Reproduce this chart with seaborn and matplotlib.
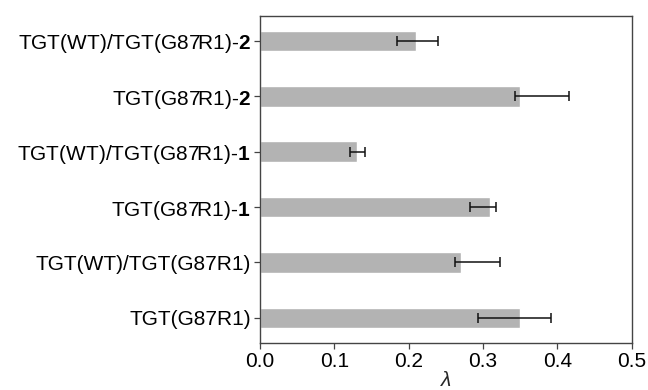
import matplotlib

matplotlib.use("Agg")
import matplotlib.pyplot as plt  # noqa: E402
import numpy as np  # noqa: E402
import pandas as pd  # noqa: E402
import seaborn as sns  # noqa: E402

labels = [
    r"TGT(WT)/TGT(G87R1)-$\mathbf{2}$",
    r"TGT(G87R1)-$\mathbf{2}$",
    r"TGT(WT)/TGT(G87R1)-$\mathbf{1}$",
    r"TGT(G87R1)-$\mathbf{1}$",
    "TGT(WT)/TGT(G87R1)",
    "TGT(G87R1)",
]
lam = [0.21, 0.35, 0.13, 0.31, 0.27, 0.35]
err_low = [0.185, 0.343, 0.121, 0.283, 0.263, 0.293]
err_high = [0.240, 0.416, 0.141, 0.317, 0.323, 0.391]

sns.set_style("ticks")
plt.rcParams["font.family"] = ["Liberation Sans", "DejaVu Sans"]
plt.rcParams["mathtext.fontset"] = "custom"
plt.rcParams["mathtext.rm"] = "Liberation Sans"
plt.rcParams["mathtext.bf"] = "Liberation Sans:bold"
plt.rcParams["mathtext.it"] = "Liberation Sans:italic"
plt.rcParams["text.color"] = "black"
plt.rcParams["xtick.color"] = "black"
plt.rcParams["ytick.color"] = "black"

df = pd.DataFrame({"label": labels, "lam": lam})

fig = plt.figure(figsize=(6.48, 3.9), dpi=100)
ax = fig.add_axes([0.401, 0.121, 0.574, 0.838])
sns.barplot(data=df, x="lam", y="label", color="#b3b3b3", saturation=1,
            width=0.37, ax=ax, errorbar=None)

yy = np.arange(len(labels))
lo = np.array(lam) - np.array(err_low)
hi = np.array(err_high) - np.array(lam)
ax.errorbar(lam, yy, xerr=[lo, hi], fmt="none", ecolor="#111111",
            elinewidth=1.1, capsize=3.5, capthick=1.1)

ax.set_xlim(0, 0.5)
ax.set_ylim(5.45, -0.45)
ax.set_xticks([0.0, 0.1, 0.2, 0.3, 0.4, 0.5])
ax.set_xticklabels(["0.0", "0.1", "0.2", "0.3", "0.4", "0.5"])
ax.set_ylabel("")
ax.set_xlabel(r"$\lambda$", fontsize=15, labelpad=0)
ax.tick_params(axis="both", labelsize=15, length=4, width=0.9,
               color="#444444", labelcolor="black", pad=2.5)
for sp in ax.spines.values():
    sp.set_visible(True)
    sp.set_color("#444444")
    sp.set_linewidth(1.0)

fig.savefig("out.png", dpi=100)
plt.close(fig)
